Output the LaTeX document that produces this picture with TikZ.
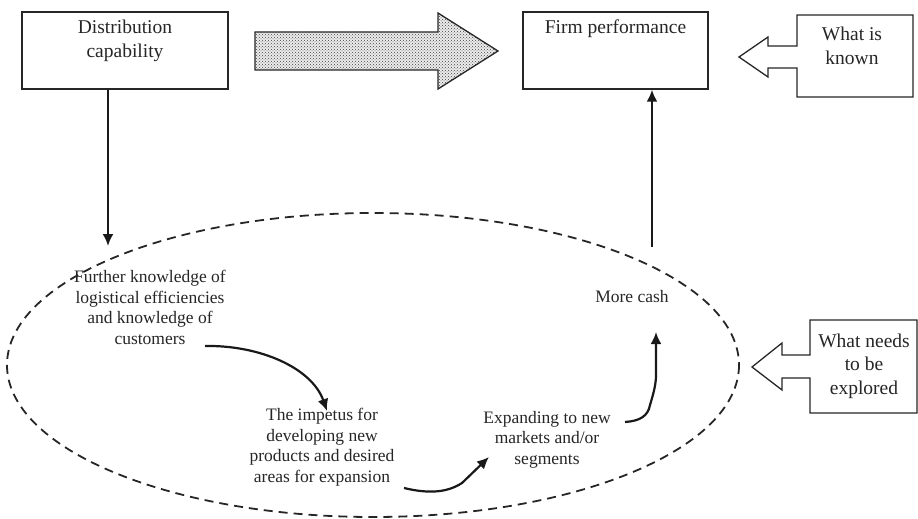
\documentclass[tikz,border=0pt]{standalone}
\usepackage{fontspec}
\setmainfont{Liberation Serif}
\usetikzlibrary{arrows.meta,patterns}
\begin{document}
\begin{tikzpicture}[x=1pt,y=-1pt,
  box/.style={draw=black!85,line width=1.4pt,rectangle,inner sep=0pt},
  bigtxt/.style={align=center,inner sep=0pt,font=\fontsize{19.5}{23.5}\selectfont,text=black!85},
  smalltxt/.style={align=center,inner sep=0pt,font=\fontsize{17.5}{20.5}\selectfont,text=black!85},
  conn/.style={draw=black!90,line width=2.2pt,-{Latex[length=12pt,width=11pt]}},
  callout/.style={draw=black!85,line width=1.3pt,fill=white}]
\useasboundingbox (0,0) rectangle (918,519);
% dashed region
\draw[black!85,line width=1.8pt,dash pattern=on 9pt off 6pt] (373,365) ellipse [x radius=366, y radius=152];
% boxes
\node[box,minimum width=206pt,minimum height=77pt] (dist) at (125,50.5) {};
\node[bigtxt,anchor=north] (distt) at (125,20) {Distribution\\capability};
\node[box,minimum width=185pt,minimum height=77pt] (firm) at (615.5,50.5) {};
\node[bigtxt,anchor=north] (firmt) at (615.5,20) {Firm performance};
% fat dotted arrow
\fill[gray!15] (255,32) -- (438,32) -- (438,13) -- (498,51) -- (438,89) -- (438,70) -- (255,70) -- cycle;
\fill[pattern=crosshatch dots,pattern color=black!75] (255,32) -- (438,32) -- (438,13) -- (498,51) -- (438,89) -- (438,70) -- (255,70) -- cycle;
\draw[black!85,line width=1.3pt,line join=miter] (255,32) -- (438,32) -- (438,13) -- (498,51) -- (438,89) -- (438,70) -- (255,70) -- cycle;
% callouts
\draw[callout] (797,15) -- (913,15) -- (913,97) -- (797,97) -- (797,68) -- (768,68) -- (768,77) -- (739,57) -- (768,37) -- (768,46) -- (797,46) -- cycle;
\node[bigtxt] (known) at (852,46) {What is\\known};
\draw[callout] (810,320) -- (917,320) -- (917,413) -- (810,413) -- (810,378) -- (782,378) -- (782,390) -- (752,367) -- (782,343) -- (782,355) -- (810,355) -- cycle;
\node[bigtxt] (explored) at (864,366) {What needs\\to be\\explored};
% inner texts
\node[smalltxt,anchor=north] (further) at (150,270) {Further knowledge of\\logistical efficiencies\\and knowledge of\\customers};
\node[smalltxt,anchor=north] (impetus) at (322,408) {The impetus for\\developing new\\products and desired\\areas for expansion};
\node[smalltxt,anchor=north] (expand) at (547,411) {Expanding to new\\markets and/or\\segments};
\node[smalltxt] (cash) at (632,297) {More cash};
% connectors
\coordinate (downend) at (108,246);
\draw[conn] (dist.south -| downend) -- (downend);
\coordinate (upstart) at (652,247);
\draw[conn] (upstart) -- (upstart |- firm.south);
\coordinate (c1s) at (205,346);
\draw[conn] (c1s) .. controls (260,345) and (312,368) .. ([xshift=5pt,yshift=-3pt]impetus.north);
\coordinate (c2s) at (404,488);
\coordinate (c2e) at (489,457);
\draw[conn] (c2s) .. controls (425,493) and (445,494) .. (462,483) -- (c2e);
\coordinate (c3s) at (625,422);
\draw[conn] (c3s) .. controls (640,421) and (648,416) .. (650,405) .. controls (653,395) and (656,385) .. (656,375) -- (656,332);
\end{tikzpicture}
\end{document}
